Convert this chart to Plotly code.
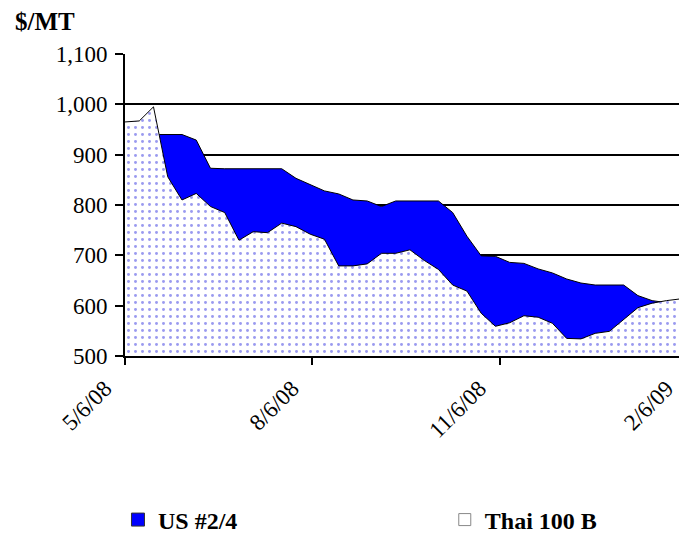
import plotly.graph_objects as go

dates = [
    "2008-05-06", "2008-05-13", "2008-05-20", "2008-05-27",
    "2008-06-03", "2008-06-10", "2008-06-17", "2008-06-24",
    "2008-07-01", "2008-07-08", "2008-07-15", "2008-07-22", "2008-07-29",
    "2008-08-05", "2008-08-12", "2008-08-19", "2008-08-26",
    "2008-09-02", "2008-09-09", "2008-09-16", "2008-09-23", "2008-09-30",
    "2008-10-07", "2008-10-14", "2008-10-21", "2008-10-28",
    "2008-11-04", "2008-11-11", "2008-11-18", "2008-11-25",
    "2008-12-02", "2008-12-09", "2008-12-16", "2008-12-23", "2008-12-30",
    "2009-01-06", "2009-01-13", "2009-01-20", "2009-01-27",
    "2009-02-06",
]

us_2_4 = [962, 964, 940, 940, 940, 929, 873, 872, 872, 872,
          872, 872, 853, 840, 828, 822, 810, 808, 797, 808,
          808, 808, 808, 785, 738, 699, 698, 686, 684, 673,
          665, 653, 645, 641, 641, 641, 620, 610, 606, 610]

thai_100b = [965, 967, 995, 856, 810, 823, 797, 785, 730, 747,
             745, 764, 757, 742, 732, 679, 679, 683, 704, 704,
             711, 690, 672, 641, 629, 585, 559, 566, 580, 577,
             565, 535, 534, 545, 549, 572, 596, 605, 610, 615]

tick_dates = ["2008-05-06", "2008-08-06", "2008-11-06", "2009-02-06"]
tick_labels = ["5/6/08", "8/6/08", "11/6/08", "2/6/09"]
y_ticks = [500, 600, 700, 800, 900, 1000, 1100]

FONT = "Times New Roman, Liberation Serif, serif"

fig = go.Figure()

fig.add_trace(go.Scatter(
    x=dates, y=us_2_4, mode="lines", fill="tozeroy",
    fillcolor="#0000ff", line=dict(color="black", width=1),
    name="US #2/4", showlegend=False, hoverinfo="x+y"))

fig.add_trace(go.Scatter(
    x=dates, y=thai_100b, mode="lines", fill="tozeroy",
    fillcolor="white",
    fillpattern=dict(shape=".", fgcolor="#3535e0", bgcolor="white",
                     size=7, solidity=0.14),
    line=dict(color="black", width=1),
    name="Thai 100 B", showlegend=False, hoverinfo="x+y"))

# legend entries (square swatches like the original)
fig.add_trace(go.Scatter(
    x=[None], y=[None], mode="markers", name="US #2/4", legend="legend",
    marker=dict(symbol="square", size=13, color="#0000ff",
                line=dict(color="#333333", width=1))))
fig.add_trace(go.Scatter(
    x=[None], y=[None], mode="markers", name="Thai 100 B", legend="legend2",
    marker=dict(symbol="square", size=12, color="white",
                line=dict(color="#888888", width=1))))

legend_font = dict(family=FONT, size=24, color="black", weight="bold")

fig.update_layout(
    width=679, height=527,
    margin=dict(l=117, r=0, t=46, b=179, autoexpand=False),
    paper_bgcolor="white", plot_bgcolor="white",
    font=dict(family=FONT, size=23, color="black"),
    showlegend=True,
    legend=dict(orientation="h", x=-0.0125, xanchor="left",
                y=-0.543, yanchor="middle", font=legend_font,
                bgcolor="rgba(0,0,0,0)", itemwidth=30),
    legend2=dict(orientation="h", x=0.569, xanchor="left",
                 y=-0.543, yanchor="middle", font=legend_font,
                 bgcolor="rgba(0,0,0,0)", itemwidth=30),
    annotations=[dict(text="<b>$/MT</b>", xref="paper", yref="paper",
                      x=-0.2, y=1.106, xanchor="left", yanchor="middle",
                      showarrow=False,
                      font=dict(family=FONT, size=25, color="black"))],
)

fig.update_xaxes(
    type="date", range=["2008-05-06", "2009-02-06 03:00"],
    tickmode="array", tickvals=tick_dates, ticktext=tick_labels,
    tickangle=-45, ticks="outside", ticklen=7, tickwidth=2, tickcolor="black",
    ticklabelstandoff=1, ticklabelshift=-20,
    showline=True, linecolor="black", linewidth=2, showgrid=False,
    zeroline=False, tickfont=dict(family=FONT, size=23, color="black"))

fig.update_yaxes(
    range=[500, 1100], tickmode="array", tickvals=y_ticks,
    tickformat=",", ticks="outside", ticklen=8, tickwidth=2, tickcolor="black",
    showline=True, linecolor="black", linewidth=2,
    showgrid=True, gridcolor="black", gridwidth=2, zeroline=False,
    ticklabelstandoff=3,
    tickfont=dict(family=FONT, size=23, color="black"))

fig.write_html("out.html")
